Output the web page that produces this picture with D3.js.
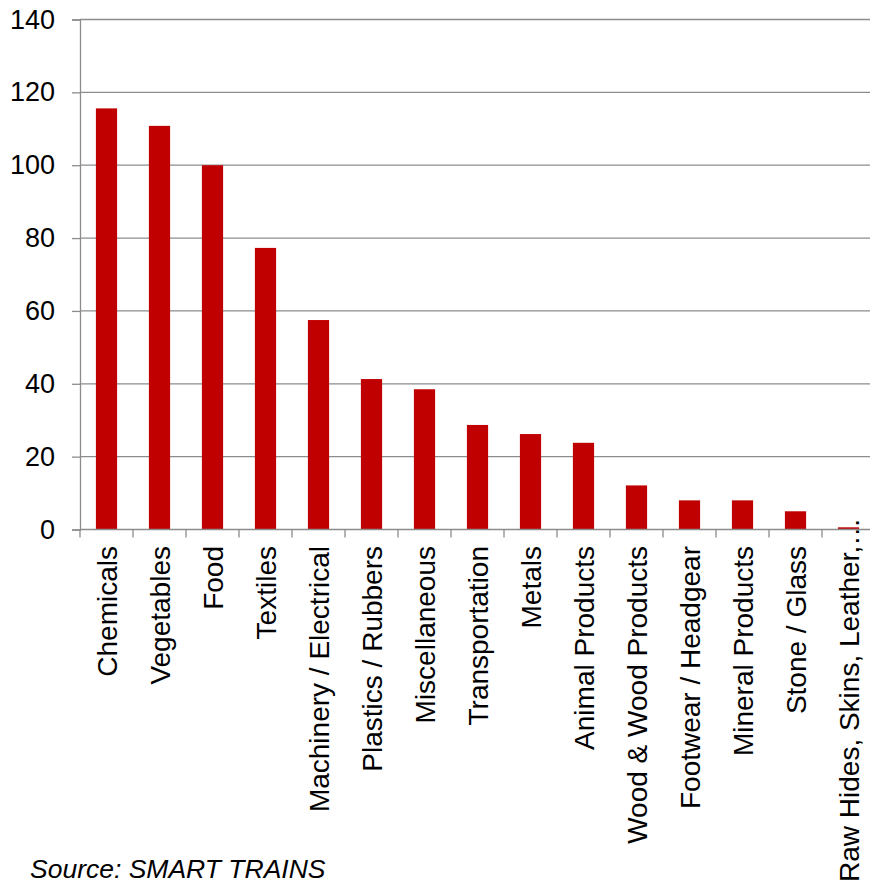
<!DOCTYPE html>
<html>
<head>
<meta charset="utf-8">
<script src="https://cdn.jsdelivr.net/npm/d3@7"></script>
<style>
  html, body { margin: 0; padding: 0; background: #fff; overflow: hidden; }
  text { font-family: "Liberation Sans", Arial, sans-serif; fill: #000; }
</style>
</head>
<body>
<svg id="chart" width="870" height="885"></svg>
<script>
// Product categories and their values
const categories = [
  "Chemicals", "Vegetables", "Food", "Textiles", "Machinery / Electrical",
  "Plastics / Rubbers", "Miscellaneous", "Transportation", "Metals",
  "Animal Products", "Wood & Wood Products", "Footwear / Headgear",
  "Mineral Products", "Stone / Glass", "Raw Hides, Skins, Leather,…"
];
const values = [115.6, 110.8, 100, 77.3, 57.5, 41.3, 38.5, 28.7, 26.2, 23.8, 12.1, 8.0, 8.0, 5.0, 0.6];
const yTicks = [0, 20, 40, 60, 80, 100, 120, 140];
const sourceNote = "Source: SMART TRAINS";

const svg = d3.select("#chart");
const plotLeft = 80, plotRight = 875, plotTop = 19.5, plotBottom = 529.5;
const gridColor = "#8c8c8c";

const x = d3.scaleBand().domain(categories).range([plotLeft, plotRight]).paddingInner(0.6).paddingOuter(0.3);
const y = d3.scaleLinear().domain([0, 140]).range([plotBottom, plotTop]);

// Horizontal gridlines
svg.append("g").selectAll("line").data(yTicks.filter(d => d > 0)).join("line")
  .attr("x1", plotLeft).attr("x2", plotRight)
  .attr("y1", d => y(d)).attr("y2", d => y(d))
  .attr("stroke", gridColor).attr("stroke-width", 1.3);

// Bars
svg.append("g").selectAll("rect").data(values).join("rect")
  .attr("x", (d, i) => x(categories[i]))
  .attr("width", x.bandwidth())
  .attr("y", d => y(d))
  .attr("height", d => y(0) - y(d))
  .attr("fill", "#c00000");

// Y axis
const yAxis = svg.append("g").attr("transform", `translate(${plotLeft},0)`)
  .call(d3.axisLeft(y).tickValues(yTicks).tickSize(8).tickPadding(17));
yAxis.select(".domain").attr("stroke", gridColor).attr("stroke-width", 1.3);
yAxis.selectAll(".tick line").attr("stroke", gridColor).attr("stroke-width", 1.3);
yAxis.selectAll(".tick text").style("font-size", "27px").style("font-family", "'Liberation Sans', Arial, sans-serif").attr("fill", "#000");

// X axis with tick marks at category boundaries
const xg = svg.append("g");
xg.append("line").attr("x1", plotLeft).attr("x2", plotRight).attr("y1", plotBottom).attr("y2", plotBottom)
  .attr("stroke", gridColor).attr("stroke-width", 1.3);
const step = x.step();
const bounds = categories.map(c => x(c) - x.paddingOuter() * step).concat([plotRight]);
xg.selectAll("line.t").data(bounds).join("line").attr("class", "t")
  .attr("x1", d => d).attr("x2", d => d)
  .attr("y1", plotBottom).attr("y2", plotBottom + 8)
  .attr("stroke", gridColor).attr("stroke-width", 1.3);

// Rotated category labels; a label too long for the space below the axis is pulled up so it ends at the bottom edge
const labelTop = 546, labelBottom = 882;
xg.selectAll("text").data(categories).join("text")
  .style("font-size", "28px")
  .attr("text-anchor", "end")
  .text(d => d)
  .each(function (d) {
    const len = this.getComputedTextLength();
    const yEnd = (labelTop + len > labelBottom) ? labelBottom - len : labelTop;
    d3.select(this).attr("transform", `translate(${x(d) + x.bandwidth() / 2 + 10},${yEnd}) rotate(-90)`);
  });

// Source note
svg.append("text").attr("x", 30).attr("y", 878)
  .style("font-size", "26.5px").style("font-style", "italic")
  .text(sourceNote);
</script>
</body>
</html>
